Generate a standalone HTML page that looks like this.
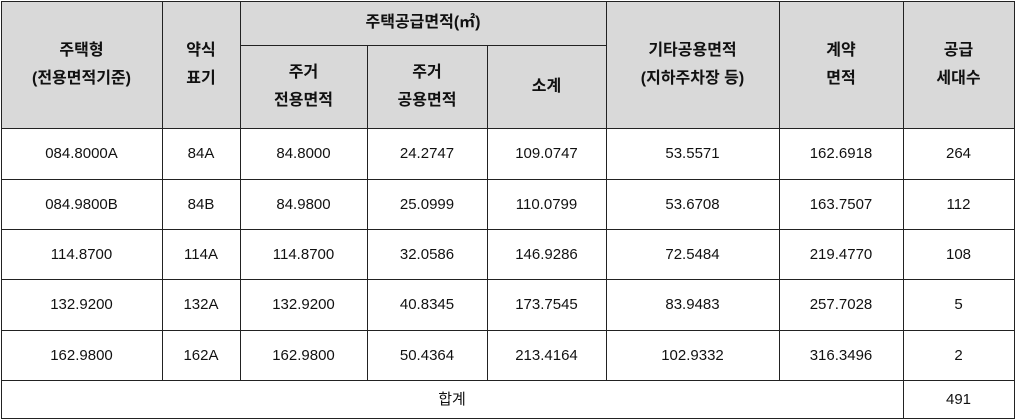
<!DOCTYPE html>
<html><head><meta charset="utf-8"><style>
body{margin:0;width:1016px;height:420px;background:#fff;position:relative;overflow:hidden;font-family:"Liberation Sans","Noto Sans CJK KR",sans-serif;color:#111}
.c{position:absolute;display:flex;align-items:center;justify-content:center;text-align:center;font-size:15px;line-height:25px;box-sizing:border-box}
.h{font-weight:bold;font-size:16px;line-height:28px;background:#d9d9d9}
.hl{position:absolute;height:1px;background:#222}
.vl{position:absolute;width:1px;background:#222}
</style></head><body>
<div class="c h" style="left:1px;top:1px;width:1013px;height:127px"></div>
<div class="c h" style="left:1px;top:1px;width:161px;height:127px">주택형<br>(전용면적기준)</div>
<div class="c h" style="left:162px;top:1px;width:78px;height:127px">약식<br>표기</div>
<div class="c h" style="left:240px;top:1px;width:366px;height:44px">주택공급면적(㎡)</div>
<div class="c h" style="left:240px;top:45px;width:127px;height:83px">주거<br>전용면적</div>
<div class="c h" style="left:367px;top:45px;width:120px;height:83px">주거<br>공용면적</div>
<div class="c h" style="left:487px;top:45px;width:119px;height:83px">소계</div>
<div class="c h" style="left:606px;top:1px;width:173px;height:127px">기타공용면적<br>(지하주차장 등)</div>
<div class="c h" style="left:779px;top:1px;width:124px;height:127px">계약<br>면적</div>
<div class="c h" style="left:903px;top:1px;width:111px;height:127px">공급<br>세대수</div>
<div id="rows"></div>
<script>
var xs=[1,162,240,367,487,606,779,903,1014];
var ys=[128,179,229,279,330,380];
var d=[["084.8000A","84A","84.8000","24.2747","109.0747","53.5571","162.6918","264"],
["084.9800B","84B","84.9800","25.0999","110.0799","53.6708","163.7507","112"],
["114.8700","114A","114.8700","32.0586","146.9286","72.5484","219.4770","108"],
["132.9200","132A","132.9200","40.8345","173.7545","83.9483","257.7028","5"],
["162.9800","162A","162.9800","50.4364","213.4164","102.9332","316.3496","2"]];
var h="";
for(var r=0;r<5;r++)for(var i=0;i<8;i++)h+='<div class="c" style="left:'+xs[i]+'px;top:'+ys[r]+'px;width:'+(xs[i+1]-xs[i])+'px;height:'+(ys[r+1]-ys[r])+'px">'+d[r][i]+'</div>';
h+='<div class="c" style="left:1px;top:380px;width:902px;height:38px">합계</div>';
h+='<div class="c" style="left:903px;top:380px;width:111px;height:38px">491</div>';
[1,128,179,229,279,330,380,418].forEach(function(y){h+='<div class="hl" style="left:1px;width:1014px;top:'+y+'px"></div>'});
h+='<div class="hl" style="left:240px;width:366px;top:45px"></div>';
[1,1014].forEach(function(x){h+='<div class="vl" style="left:'+x+'px;top:1px;height:418px"></div>'});
[162,240,606,779].forEach(function(x){h+='<div class="vl" style="left:'+x+'px;top:1px;height:380px"></div>'});
[367,487].forEach(function(x){h+='<div class="vl" style="left:'+x+'px;top:45px;height:335px"></div>'});
h+='<div class="vl" style="left:903px;top:1px;height:418px"></div>';
document.getElementById("rows").innerHTML=h;
</script>
</body></html>
